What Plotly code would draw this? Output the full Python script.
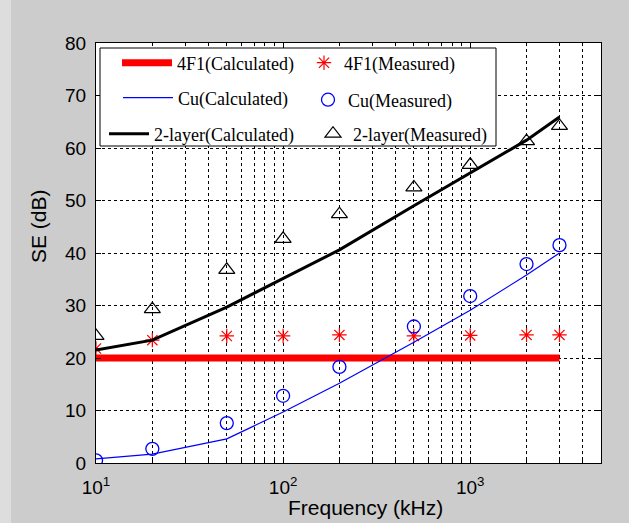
import math
import plotly.graph_objects as go

# ---------------- data ----------------
freq = [10, 20, 50, 100, 200, 500, 1000, 2000, 3000]
f4f1_calc = [20, 20, 20, 20, 20, 20, 20, 20, 20]
f4f1_meas = [21.8, 23.4, 24.2, 24.2, 24.4, 24.2, 24.3, 24.4, 24.4]
cu_calc = [0.8, 1.7, 4.6, 9.7, 15.2, 23.0, 29.1, 35.8, 40.0]
cu_meas = [0.5, 2.7, 7.6, 12.8, 18.3, 26.0, 31.8, 37.9, 41.5]
two_calc = [21.5, 23.4, 29.7, 35.2, 40.6, 49.0, 55.2, 61.5, 65.9]
two_meas = [24.2, 29.3, 36.8, 42.7, 47.4, 52.5, 56.8, 61.3, 64.2]

x_tickvals = [10, 100, 1000]
x_ticktext = ["10<sup>1</sup>", "10<sup>2</sup>", "10<sup>3</sup>"]
y_tickvals = [0, 10, 20, 30, 40, 50, 60, 70, 80]

# ---------------- layout helpers ----------------
W, H = 629, 523
L, R, T, B = 96, 601, 43, 463


def px(xp):
    return (xp - L) / (R - L)


def py(yp):
    return (B - yp) / (B - T)


GRID_DASH = "3px,3px"
SANS = "Liberation Sans, Arial, sans-serif"
SERIF = "Liberation Serif, Times New Roman, serif"

fig = go.Figure()

fig.add_trace(go.Scatter(x=freq, y=f4f1_calc, mode="lines", name="4F1(Calculated)",
                         line=dict(color="#ff0000", width=7), legend="legend"))
fig.add_trace(go.Scatter(x=freq, y=f4f1_meas, mode="markers", name="4F1(Measured)",
                         marker=dict(symbol="asterisk-open", size=12, color="#ff0000",
                                     line=dict(color="#ff0000", width=1.2)),
                         legend="legend2"))
fig.add_trace(go.Scatter(x=freq, y=cu_calc, mode="lines", name="Cu(Calculated)",
                         line=dict(color="#0000ff", width=1.2), legend="legend3"))
fig.add_trace(go.Scatter(x=freq, y=cu_meas, mode="markers", name="Cu(Measured)",
                         marker=dict(symbol="circle-open", size=13, color="#0000ff",
                                     line=dict(color="#0000ff", width=1.3)),
                         legend="legend4"))
fig.add_trace(go.Scatter(x=freq, y=two_calc, mode="lines", name="2-layer(Calculated)",
                         line=dict(color="#000000", width=3), legend="legend5"))
fig.add_trace(go.Scatter(x=freq, y=two_meas, mode="markers", name="2-layer(Measured)",
                         marker=dict(symbol="triangle-up-open", size=14, color="#000000",
                                     line=dict(color="#000000", width=1.2)),
                         legend="legend6"))

fig.update_xaxes(
    type="log", range=[1, math.log10(5000)],
    tickvals=x_tickvals, ticktext=x_ticktext,
    ticks="inside", ticklen=5, tickcolor="black", ticklabelstandoff=7,
    showline=True, linecolor="black", linewidth=1, mirror="allticks",
    showgrid=True, gridcolor="black", gridwidth=1, griddash=GRID_DASH,
    zeroline=False,
    tickfont=dict(family=SANS, size=19, color="black"),
    minor=dict(dtick="D1", ticks="inside", ticklen=3, tickcolor="black",
               showgrid=True, gridcolor="black", gridwidth=1, griddash=GRID_DASH),
)
fig.update_yaxes(
    range=[0, 80], tickvals=y_tickvals,
    ticks="inside", ticklen=5, tickcolor="black", ticklabelstandoff=5,
    showline=True, linecolor="black", linewidth=1, mirror="allticks",
    showgrid=True, gridcolor="black", gridwidth=1, griddash=GRID_DASH,
    zeroline=False,
    tickfont=dict(family=SANS, size=19, color="black"),
)


def leg(xp, yp, iw=30):
    # xp: left of legend item, yp: vertical centre of the row (pixels)
    return dict(x=px(xp), y=py(yp), xanchor="left", yanchor="middle",
                bgcolor="rgba(0,0,0,0)", borderwidth=0, itemwidth=iw,
                font=dict(family=SERIF, size=18, color="black"))


fig.update_layout(
    width=W, height=H,
    margin=dict(l=L, r=W - R, t=T, b=H - B, pad=0),
    paper_bgcolor="#cccccc", plot_bgcolor="#ffffff",
    showlegend=True,
    legend=leg(117, 63, 50),
    legend2=leg(304, 63),
    legend3=leg(118, 98, 50),
    legend4=leg(308, 100),
    legend5=leg(104, 134, 40),
    legend6=leg(313, 134),
    shapes=[
        # legend box
        dict(type="rect", xref="paper", yref="paper",
             x0=px(100), x1=px(496), y0=py(146), y1=py(48),
             fillcolor="white", line=dict(color="black", width=1), layer="above"),
        # light window edge strip at left
        dict(type="rect", xref="paper", yref="paper",
             x0=px(0), x1=px(11), y0=py(H), y1=py(0),
             fillcolor="#dddddd", line=dict(width=0), layer="below"),
    ],
    annotations=[
        dict(text="Frequency (kHz)", xref="paper", yref="paper",
             x=px(365), y=py(507), showarrow=False, xanchor="center", yanchor="middle",
             font=dict(family=SANS, size=21, color="black")),
        dict(text="SE (dB)", xref="paper", yref="paper", textangle=-90,
             x=px(38), y=py(226), showarrow=False, xanchor="center", yanchor="middle",
             font=dict(family=SANS, size=21, color="black")),
    ],
)

fig.write_html("out.html", config={"displayModeBar": False},
               post_script="document.body.style.margin='0';document.body.style.padding='0';")
